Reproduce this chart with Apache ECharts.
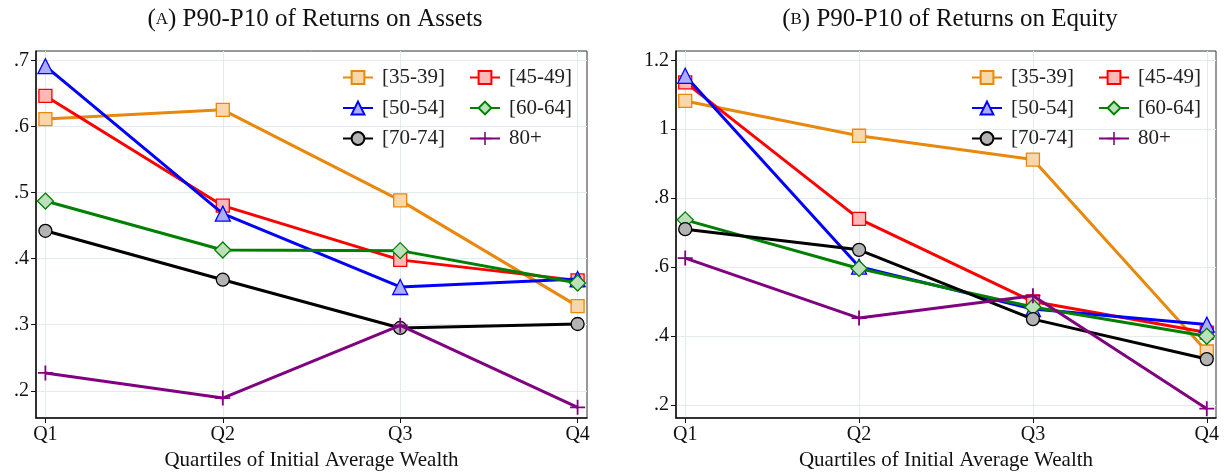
<!DOCTYPE html>
<html><head><meta charset="utf-8">
<script src="https://cdn.jsdelivr.net/npm/echarts@6/dist/echarts.min.js"></script>
<style>html,body{margin:0;padding:0;background:#fff}#c{width:1225px;height:476px}</style>
</head><body><div id="c"></div>
<script>
// ---- data ----
const categories = ['Q1', 'Q2', 'Q3', 'Q4'];
const groupNames = ['[35-39]', '[45-49]', '[50-54]', '[60-64]', '[70-74]', '80+'];

// Panel A: P90-P10 of returns on assets
const assets_35_39 = [0.611, 0.625, 0.488, 0.328];
const assets_45_49 = [0.646, 0.480, 0.398, 0.367];
const assets_50_54 = [0.691, 0.468, 0.357, 0.369];
const assets_60_64 = [0.487, 0.413, 0.412, 0.363];
const assets_70_74 = [0.442, 0.368, 0.295, 0.301];
const assets_80p   = [0.227, 0.189, 0.299, 0.175];

// Panel B: P90-P10 of returns on equity
const equity_35_39 = [1.082, 0.981, 0.912, 0.355];
const equity_45_49 = [1.136, 0.740, 0.500, 0.410];
const equity_50_54 = [1.155, 0.601, 0.478, 0.433];
const equity_60_64 = [0.737, 0.596, 0.484, 0.399];
const equity_70_74 = [0.710, 0.650, 0.449, 0.333];
const equity_80p   = [0.626, 0.452, 0.517, 0.189];

const assetsTicks = [0.2, 0.3, 0.4, 0.5, 0.6, 0.7];
const equityTicks = [0.2, 0.4, 0.6, 0.8, 1.0, 1.2];

const assetsSeries = [assets_35_39, assets_45_49, assets_50_54, assets_60_64, assets_70_74, assets_80p];
const equitySeries = [equity_35_39, equity_45_49, equity_50_54, equity_60_64, equity_70_74, equity_80p];

// ---- styles ----
const FONT = 'Liberation Serif';
const PLUS = 'path://M-1.2,-10L1.2,-10L1.2,-1.2L10,-1.2L10,1.2L1.2,1.2L1.2,10L-1.2,10L-1.2,1.2L-10,1.2L-10,-1.2L-1.2,-1.2Z';
const styles = [
  {color: '#e8880c', fill: '#fad6ab', symbol: 'rect', size: 13},
  {color: '#ff0000', fill: '#ffb8b8', symbol: 'rect', size: 13},
  {color: '#0000ff', fill: '#adadff', symbol: 'triangle', size: 15},
  {color: '#008000', fill: '#bcdfbc', symbol: 'diamond', size: 16},
  {color: '#000000', fill: '#b3b3b3', symbol: 'circle', size: 13},
  {color: '#800080', fill: '#800080', symbol: PLUS, size: 15}
];

const grids = [
  {left: 36, right: 638, top: 51, bottom: 58, show: true, borderColor: '#333', borderWidth: 1, backgroundColor: '#fff'},
  {left: 676, right: 9, top: 51, bottom: 58, show: true, borderColor: '#333', borderWidth: 1, backgroundColor: '#fff'}
];

function yFmt(v) {
  const s = String(+(+v).toFixed(1));
  return s.replace(/^0\./, '.');
}

function xAxis(gi) {
  return {
    type: 'value', gridIndex: gi, min: -0.053, max: 3.053,
    name: 'Quartiles of Initial Average Wealth', nameLocation: 'middle', nameGap: 30,
    nameTextStyle: {fontFamily: FONT, fontSize: 21, color: '#111'},
    axisLine: {show: true, onZero: false, lineStyle: {color: '#111', width: 1.5}},
    axisTick: {show: true, length: 5, lineStyle: {color: '#111', width: 1}, customValues: [0, 1, 2, 3]},
    axisLabel: {customValues: [0, 1, 2, 3], margin: 7, fontFamily: FONT, fontSize: 20, color: '#111',
      formatter: v => categories[Math.round(v)]},
    splitLine: {show: true, lineStyle: {color: '#e2ecef', width: 1}}
  };
}
function yAxis(gi, min, max, ticks) {
  return {
    type: 'value', gridIndex: gi, min: min, max: max,
    axisLine: {show: true, onZero: false, lineStyle: {color: '#111', width: 1.5}},
    axisTick: {show: true, length: 5, lineStyle: {color: '#111', width: 1}, customValues: ticks},
    axisLabel: {customValues: ticks, margin: 7, fontFamily: FONT, fontSize: 20, color: '#111', formatter: yFmt},
    splitLine: {show: true, lineStyle: {color: '#e2ecef', width: 1}}
  };
}

function makeSeries(arrs, gi) {
  return arrs.map((vals, i) => ({
    type: 'line', name: groupNames[i], xAxisIndex: gi, yAxisIndex: gi,
    data: vals.map((v, k) => [k, v]),
    symbol: styles[i].symbol, symbolSize: styles[i].size, showAllSymbol: true,
    lineStyle: {color: styles[i].color, width: 3},
    itemStyle: {color: styles[i].fill, borderColor: styles[i].color, borderWidth: i === 5 ? 0 : 1.3},
    emphasis: {disabled: true}, animation: false, z: 2 + i
  }));
}

function legend(names, left, top) {
  return {
    data: names, orient: 'vertical', left: left, top: top, padding: 0,
    itemWidth: 30, itemHeight: 16, itemGap: 9.5, selectedMode: false,
    textStyle: {fontFamily: FONT, fontSize: 21, color: '#222', padding: [0, 0, 0, 4]}
  };
}

const titleRich = {
  p: {fontFamily: FONT, fontSize: 25, fontWeight: 'normal', color: '#111'},
  sc: {fontFamily: FONT, fontSize: 17, fontWeight: 'normal', color: '#111'}
};

const chart = echarts.init(document.getElementById('c'), null, {renderer: 'canvas'});
chart.setOption({
  animation: false,
  backgroundColor: '#fff',
  title: [
    {text: '{p|(}{sc|A}{p|) P90-P10 of Returns on Assets}', left: 310, top: 2, textAlign: 'center',
      textStyle: {fontWeight: 'normal', rich: titleRich}},
    {text: '{p|(}{sc|B}{p|) P90-P10 of Returns on Equity}', left: 945, top: 2, textAlign: 'center',
      textStyle: {fontWeight: 'normal', rich: titleRich}}
  ],
  legend: [
    legend([groupNames[0], groupNames[2], groupNames[4]], 342, 67),
    legend([groupNames[1], groupNames[3], groupNames[5]], 469, 67),
    legend([groupNames[0], groupNames[2], groupNames[4]], 971, 67),
    legend([groupNames[1], groupNames[3], groupNames[5]], 1098, 67)
  ],
  grid: grids,
  xAxis: [xAxis(0), xAxis(1)],
  yAxis: [yAxis(0, 0.1588, 0.714, assetsTicks), yAxis(1, 0.162, 1.227, equityTicks)],
  series: makeSeries(assetsSeries, 0).concat(makeSeries(equitySeries, 1))
});
</script>
</body></html>
